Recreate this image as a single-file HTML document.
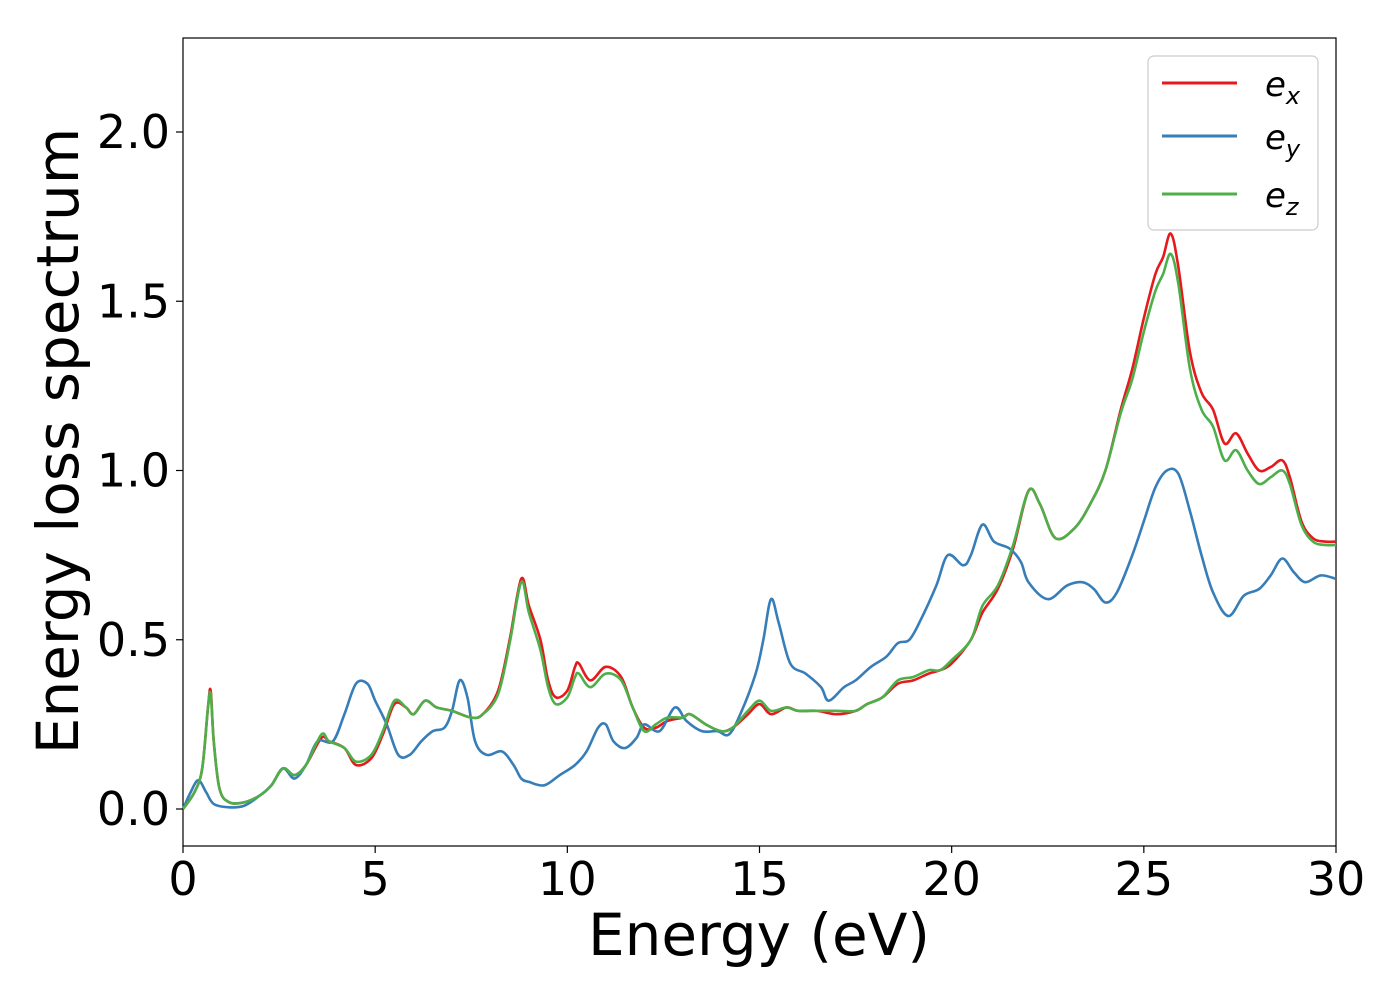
<!DOCTYPE html>
<html><head><meta charset="utf-8"><style>
html,body{margin:0;padding:0;background:#fff;}
svg{display:block;font-family:"DejaVu Sans","Liberation Sans",sans-serif;}
</style></head><body>
<svg id="chart" width="1400" height="1000" xmlns="http://www.w3.org/2000/svg">
<rect x="183" y="38" width="1153" height="808" fill="#fff" stroke="#000" stroke-width="1.2"/>
<g id="series"></g>
<g id="axes"></g>
<text x="759" y="955" font-size="58" text-anchor="middle">Energy (eV)</text>
<text transform="translate(78,441) rotate(-90)" font-size="58" text-anchor="middle">Energy loss spectrum</text>
<g>
<rect x="1148" y="56" width="170" height="174" rx="6" fill="#fff" fill-opacity="0.85" stroke="#ccc" stroke-width="1.2"/>
<line x1="1162" y1="83" x2="1237" y2="83" stroke="#e41a1c" stroke-width="3"/>
<text x="1265" y="96" font-size="34" font-style="italic">e<tspan font-size="24" dy="8">x</tspan></text>
<line x1="1162" y1="136" x2="1237" y2="136" stroke="#377eb8" stroke-width="3"/>
<text x="1265" y="149" font-size="34" font-style="italic">e<tspan font-size="24" dy="8">y</tspan></text>
<line x1="1162" y1="194" x2="1237" y2="194" stroke="#4daf4a" stroke-width="3"/>
<text x="1265" y="207" font-size="34" font-style="italic">e<tspan font-size="24" dy="8">z</tspan></text>
</g>
</svg>
<script>
const xTicks=[0,5,10,15,20,25,30];
const yTicks=[0,0.5,1.0,1.5,2.0];
const yTickLabels=["0.0","0.5","1.0","1.5","2.0"];
const exX=[0,0.3,0.5,0.65,0.72,0.8,0.95,1.2,1.6,2.0,2.3,2.6,2.9,3.2,3.6,3.8,4.2,4.5,4.9,5.2,5.5,5.8,6.0,6.3,6.6,7.0,7.5,7.8,8.2,8.5,8.8,9.0,9.3,9.5,9.7,10.0,10.2,10.3,10.6,11.0,11.4,11.7,12.0,12.3,12.6,13.0,13.2,13.6,14.0,14.3,14.7,15.0,15.3,15.7,16.0,16.5,17.0,17.5,17.8,18.2,18.6,19.0,19.4,19.7,20.0,20.5,20.8,21.2,21.6,22.0,22.3,22.7,23.2,23.6,24.0,24.4,24.7,25.0,25.3,25.5,25.7,25.9,26.2,26.5,26.8,27.1,27.4,27.7,28.0,28.3,28.6,28.8,29.1,29.4,29.7,30];
const exY=[0,0.05,0.12,0.3,0.35,0.2,0.06,0.02,0.02,0.04,0.07,0.12,0.1,0.13,0.21,0.2,0.18,0.13,0.15,0.22,0.31,0.3,0.28,0.32,0.3,0.29,0.27,0.28,0.35,0.5,0.68,0.6,0.5,0.38,0.33,0.35,0.42,0.43,0.38,0.42,0.39,0.3,0.24,0.24,0.26,0.27,0.28,0.25,0.23,0.24,0.28,0.31,0.28,0.3,0.29,0.29,0.28,0.29,0.31,0.33,0.37,0.38,0.4,0.41,0.43,0.5,0.58,0.65,0.77,0.94,0.9,0.8,0.83,0.9,1.0,1.18,1.3,1.45,1.58,1.63,1.7,1.6,1.35,1.23,1.18,1.08,1.11,1.05,1.0,1.01,1.03,0.98,0.85,0.8,0.79,0.79];
const ezY=[0,0.05,0.12,0.3,0.34,0.2,0.06,0.02,0.02,0.04,0.07,0.12,0.1,0.13,0.22,0.2,0.18,0.14,0.16,0.23,0.32,0.3,0.28,0.32,0.3,0.29,0.27,0.28,0.34,0.49,0.67,0.58,0.47,0.36,0.31,0.33,0.39,0.4,0.36,0.4,0.38,0.3,0.23,0.25,0.27,0.27,0.28,0.25,0.23,0.24,0.29,0.32,0.29,0.3,0.29,0.29,0.29,0.29,0.31,0.33,0.38,0.39,0.41,0.41,0.44,0.5,0.6,0.66,0.78,0.94,0.9,0.8,0.83,0.9,1.0,1.17,1.27,1.41,1.53,1.58,1.64,1.55,1.3,1.18,1.13,1.03,1.06,1.0,0.96,0.98,1.0,0.96,0.84,0.79,0.78,0.78];
const eyX=[0,0.2,0.4,0.6,0.8,1.2,1.6,2.0,2.3,2.6,2.9,3.2,3.5,3.9,4.2,4.5,4.8,5.0,5.3,5.6,5.9,6.2,6.5,6.8,7.0,7.2,7.4,7.6,7.9,8.3,8.6,8.8,9.0,9.4,9.8,10.2,10.5,10.8,11.0,11.2,11.5,11.8,12.0,12.4,12.8,13.1,13.5,13.9,14.2,14.5,14.9,15.1,15.3,15.5,15.8,16.2,16.6,16.8,17.2,17.5,17.9,18.3,18.6,18.9,19.2,19.6,19.9,20.3,20.5,20.8,21.1,21.5,21.8,22.0,22.5,23.0,23.4,23.7,24.0,24.3,24.7,25.0,25.3,25.6,25.9,26.2,26.5,26.8,27.2,27.6,28.0,28.3,28.6,28.9,29.2,29.6,30];
const eyY=[0,0.05,0.085,0.05,0.015,0.005,0.01,0.04,0.07,0.12,0.09,0.13,0.2,0.2,0.28,0.37,0.37,0.32,0.25,0.16,0.16,0.2,0.23,0.24,0.29,0.38,0.33,0.2,0.16,0.17,0.13,0.09,0.08,0.07,0.1,0.13,0.17,0.24,0.25,0.2,0.18,0.21,0.25,0.23,0.3,0.26,0.23,0.23,0.22,0.28,0.4,0.5,0.62,0.55,0.43,0.4,0.36,0.32,0.36,0.38,0.42,0.45,0.49,0.5,0.56,0.66,0.75,0.72,0.75,0.84,0.79,0.77,0.73,0.67,0.62,0.66,0.67,0.65,0.61,0.64,0.75,0.85,0.95,1.0,0.99,0.88,0.75,0.64,0.57,0.63,0.65,0.69,0.74,0.7,0.67,0.69,0.68];
const NS="http://www.w3.org/2000/svg";
const X0=183,X1=1336,Y0=809,YPX=338.5;
function sx(v){return X0+v/30*(X1-X0);}
function sy(v){return Y0-v*YPX;}
function pathFor(xs,ys){
  const p=xs.map((x,i)=>[sx(x),sy(ys[i])]);
  let d="M"+p[0][0]+","+p[0][1];
  for(let i=0;i<p.length-1;i++){
    const a=p[Math.max(0,i-1)],b=p[i],c=p[i+1],e=p[Math.min(p.length-1,i+2)];
    const c1=[b[0]+(c[0]-a[0])/6,b[1]+(c[1]-a[1])/6];
    const c2=[c[0]-(e[0]-b[0])/6,c[1]-(e[1]-b[1])/6];
    d+=" C"+c1[0]+","+c1[1]+" "+c2[0]+","+c2[1]+" "+c[0]+","+c[1];
  }
  return d;
}
const g=document.getElementById("series");
function addLine(xs,ys,color,name){
  const el=document.createElementNS(NS,"path");
  el.setAttribute("d",pathFor(xs,ys));
  el.setAttribute("fill","none");
  el.setAttribute("stroke",color);
  el.setAttribute("stroke-width","2.6");
  
  
  g.appendChild(el);
}
addLine(exX,exY,"#e41a1c","line-ex");
addLine(eyX,eyY,"#377eb8","line-ey");
addLine(exX,ezY,"#4daf4a","line-ez");
const ax=document.getElementById("axes");
xTicks.forEach(t=>{
  const l=document.createElementNS(NS,"line");
  l.setAttribute("x1",sx(t));l.setAttribute("x2",sx(t));l.setAttribute("y1",846);l.setAttribute("y2",853);
  l.setAttribute("stroke","#000");l.setAttribute("stroke-width","1.2");
  
  
  ax.appendChild(l);
  const tx=document.createElementNS(NS,"text");
  tx.setAttribute("x",sx(t));tx.setAttribute("y",895);tx.setAttribute("font-size","46");tx.setAttribute("text-anchor","middle");
  tx.textContent=String(t);
  
  
  ax.appendChild(tx);
});
yTicks.forEach((t,i)=>{
  const l=document.createElementNS(NS,"line");
  l.setAttribute("x1",176);l.setAttribute("x2",183);l.setAttribute("y1",sy(t));l.setAttribute("y2",sy(t));
  l.setAttribute("stroke","#000");l.setAttribute("stroke-width","1.2");
  
  
  ax.appendChild(l);
  const tx=document.createElementNS(NS,"text");
  tx.setAttribute("x",170);tx.setAttribute("y",sy(t)+16);tx.setAttribute("font-size","46");tx.setAttribute("text-anchor","end");
  tx.textContent=yTickLabels[i];
  
  
  ax.appendChild(tx);
});
</script>
</body></html>
